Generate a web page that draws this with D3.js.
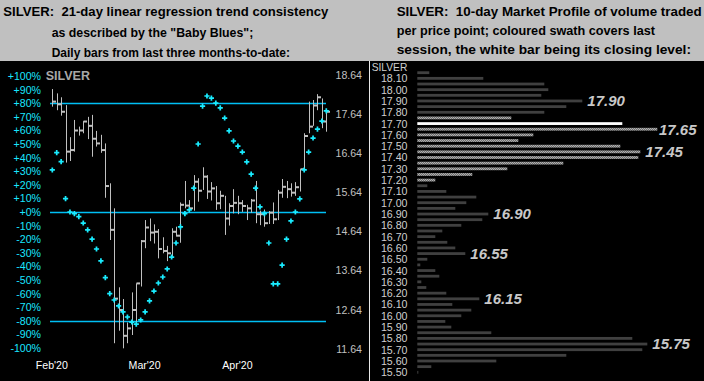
<!DOCTYPE html>
<html><head><meta charset="utf-8">
<script src="https://cdn.jsdelivr.net/npm/d3@7"></script>
<style>
body{margin:0;background:#c0c0c0;}
svg{display:block;font-family:Arial,"Liberation Sans",sans-serif;}
</style>
</head><body>
<svg id="c" width="704" height="381"></svg>
<script>
// ---------- LEFT PANEL DATA ----------
const barHigh  = [18.28,18.17,18.07,17.87,17.05,17.49,17.32,17.46,17.57,17.62,17.21,17.11,16.89,15.87,15.23,13.21,12.91,12.31,13.08,13.31,14.42,14.93,14.97,14.82,14.70,14.49,14.27,14.72,14.76,15.38,15.93,15.44,16.08,16.00,16.28,16.08,15.90,15.80,15.68,15.55,15.36,15.72,15.55,15.44,15.32,15.47,15.93,15.17,15.20,15.16,15.38,15.70,15.98,15.93,15.87,15.90,16.23,17.15,17.96,18.00,18.15,18.04,17.74];
const barLow   = [17.83,17.74,17.60,16.40,16.44,16.68,17.09,17.15,17.00,16.55,16.81,16.65,15.50,14.42,11.78,12.10,11.65,11.78,11.99,12.29,13.23,14.21,14.39,14.33,13.95,14.08,13.88,13.99,14.51,14.35,15.23,15.16,15.17,15.40,15.70,15.47,15.43,15.19,15.21,14.55,14.79,15.10,15.08,15.14,14.93,15.12,14.85,14.80,14.76,14.83,14.83,14.93,15.50,15.49,15.53,15.55,15.66,16.17,17.15,17.34,17.74,17.28,17.19];
const barClose = [17.96,17.89,17.70,16.68,16.72,17.22,17.22,17.45,17.34,17.01,16.89,16.72,15.80,14.68,12.92,12.63,11.97,12.16,12.63,13.31,14.39,14.74,14.61,14.63,14.19,14.14,14.08,14.63,14.53,15.32,15.30,15.23,15.91,15.68,16.04,15.66,15.74,15.36,15.55,14.97,15.29,15.37,15.36,15.29,15.23,15.43,15.08,15.08,14.85,15.12,14.95,15.63,15.78,15.72,15.63,15.77,16.23,17.08,17.32,17.86,18.07,17.45,17.70];
const babyBlues = [30.9,43.6,37.0,9.8,0,-1.2,-3.4,-8.1,-13.2,-19.9,-27.2,-36.0,-48.3,-60.0,-64.7,-69.1,-73.5,-77.2,-80.9,-82.4,-79.4,-73.5,-65.4,-58.1,-52.2,-47.8,-41.9,-33.1,-22.8,-11.0,-1.2,1.5,17.6,50.0,77.9,85.3,83.8,80.1,76.5,69.1,59.6,52.2,48.5,44.1,36.8,27.9,17.6,3.7,-1.2,-22.8,-52.9,-52.9,-39.0,-19.9,-6.6,0,9.6,30.9,44.1,54.4,61.0,66.9,74.3];
const pctTicks = [100,90,80,70,60,50,40,30,20,10,0,-10,-20,-30,-40,-50,-60,-70,-80,-90,-100];
const pctLines = [80,0,-80];
const priceTicks = [18.64,17.64,16.64,15.64,14.64,13.64,12.64,11.64];
const monthLabels = ["Feb'20","Mar'20","Apr'20"];
const monthBarIndex = [0,21,42];

// ---------- RIGHT PANEL DATA ----------
const mpLevels = [18.15,18.10,18.05,18.00,17.95,17.90,17.85,17.80,17.75,17.70,17.65,17.60,17.55,17.50,17.45,17.40,17.35,17.30,17.25,17.20,17.15,17.10,17.05,17.00,16.95,16.90,16.85,16.80,16.75,16.70,16.65,16.60,16.55,16.50,16.45,16.40,16.35,16.30,16.25,16.20,16.15,16.10,16.05,16.00,15.95,15.90,15.85,15.80,15.75,15.70,15.65,15.60,15.55,15.50];
const mpVolume = [12,66,127,131,124,165,149,127,94,205,240,116,101,203,223,221,146,90,55,18,10,29,59,49,38,71,65,44,25,18,30,38,48,10,3,18,22,4,9,29,62,35,54,44,28,34,74,215,230,225,149,79,14,1];
const mpTicks = [18.10,18.00,17.90,17.80,17.70,17.60,17.50,17.40,17.30,17.20,17.10,17.00,16.90,16.80,16.70,16.60,16.50,16.40,16.30,16.20,16.10,16.00,15.90,15.80,15.70,15.60,15.50];
const sessionLow = 17.20, sessionHigh = 17.75, sessionClose = 17.70;
const peakLabels = ["17.90","17.65","17.45","16.90","16.55","16.15","15.75"];

const leftTitle = ["SILVER:  21-day linear regression trend consistency","as described by the \"Baby Blues\";","Daily bars from last three months-to-date:"];
const rightTitle = ["SILVER:  10-day Market Profile of volume traded","per price point; coloured swath covers last","session, the white bar being its closing level:"];

// ---------- DRAW ----------
const svg = d3.select("#c");
const CYAN_LINE = "#00bff5", CYAN_DOT = "#19ecff", CYAN_TXT = "#19e6ff", GREY = "#c0c0c0";

const defs = svg.append("defs");
const pat = defs.append("pattern").attr("id","swath").attr("width",2).attr("height",2).attr("patternUnits","userSpaceOnUse");
pat.append("rect").attr("width",2).attr("height",2).attr("fill","#6e6e6e");
pat.append("rect").attr("width",1).attr("height",1).attr("fill","#b0b0b0");
pat.append("rect").attr("x",1).attr("y",1).attr("width",1).attr("height",1).attr("fill","#b0b0b0");

svg.append("rect").attr("x",0).attr("y",61).attr("width",704).attr("height",320).attr("fill","#000");
svg.append("line").attr("x1",369.5).attr("x2",369.5).attr("y1",61).attr("y2",381).attr("stroke","#e8e8e8").attr("stroke-width",1);

// Titles
function title(lines, xs, ys, widths){
  lines.forEach((t,i)=>{
    svg.append("text").attr("x",xs[i]).attr("y",ys[i]).text(t)
      .style("white-space","pre").attr("font-weight","bold").attr("font-size",13.5)
      .attr("fill","#000").attr("textLength",widths[i]).attr("lengthAdjust","spacingAndGlyphs");
  });
}
title(leftTitle,[3.3,51.7,51.7],[15.5,36.8,57],[325,201.6,238.3]);
title(rightTitle,[396.7,396.7,396.7],[15.5,34.8,53.8],[305,258.3,294.3]);

// Left scales
const xL = d3.scaleLinear().domain([0, barHigh.length-1]).range([52.3, 326.3]);
const yPrice = d3.scaleLinear().domain([11.64,18.64]).range([348.7,75]);
const yPct = d3.scaleLinear().domain([-100,100]).range([348,76]);

// reference lines
svg.append("g").selectAll("line").data(pctLines).join("line")
  .attr("x1",50).attr("x2",326).attr("y1",d=>Math.round(yPct(d))+0.5).attr("y2",d=>Math.round(yPct(d))+0.5)
  .attr("stroke",CYAN_LINE).attr("stroke-width",1.3);

// SILVER label
svg.append("text").attr("x",45.7).attr("y",79.5).text("SILVER").attr("font-weight","bold")
  .attr("font-size",12.5).attr("fill","#a8a8a8");

// OHLC bars
const gb = svg.append("g");
barHigh.forEach((h,i)=>{
  const x = Math.round(xL(i))+0.5;
  gb.append("line").attr("x1",x).attr("x2",x).attr("y1",yPrice(h)).attr("y2",yPrice(barLow[i]))
    .attr("stroke",GREY).attr("stroke-width",1);
  gb.append("rect").attr("x",x).attr("y",yPrice(barClose[i])-1).attr("width",3.5).attr("height",2).attr("fill",GREY);
});

// Baby blues dots
svg.append("g").selectAll("path").data(babyBlues).join("path")
  .attr("d", d3.symbol().type(d3.symbolCross).size(15))
  .attr("transform",(d,i)=>`translate(${xL(i)},${yPct(d)})`)
  .attr("fill",CYAN_DOT);

// Percent axis
const axP = svg.append("g").attr("transform","translate(41,0)")
  .call(d3.axisLeft(yPct).tickValues(pctTicks).tickSize(0).tickPadding(0).tickFormat(d=>(d>=0?"+":"")+d+"%"));
axP.select(".domain").remove();
axP.selectAll("text").attr("fill",CYAN_TXT).attr("font-size",10.6).attr("font-family","Arial,'Liberation Sans',sans-serif");

// Price axis
const axR = svg.append("g").attr("transform","translate(362,0)")
  .call(d3.axisLeft(yPrice).tickValues(priceTicks).tickSize(0).tickPadding(0).tickFormat(d3.format(".2f")));
axR.select(".domain").remove();
axR.selectAll("text").attr("fill",GREY).attr("font-size",10.6).attr("font-family","Arial,'Liberation Sans',sans-serif");

// Month axis
const axX = svg.append("g").attr("transform","translate(-1,361)")
  .call(d3.axisBottom(xL).tickValues(monthBarIndex).tickSize(0).tickPadding(0).tickFormat((d,i)=>monthLabels[i]));
axX.select(".domain").remove();
axX.selectAll("text").attr("fill","#fff").attr("font-size",10.6).attr("font-family","Arial,'Liberation Sans',sans-serif");

// ---------- RIGHT PANEL ----------
const yMP = d3.scaleLinear().domain([15.50,18.15]).range([372.3,72.7]);
const xMP = d3.scaleLinear().domain([0,240]).range([417.3,657.3]);

svg.append("text").attr("x",371.7).attr("y",71.3).text("SILVER").attr("font-size",11).attr("fill","#d0d0d0")
  .attr("textLength",35.6).attr("lengthAdjust","spacingAndGlyphs");

const axM = svg.append("g").attr("transform","translate(407.5,0)")
  .call(d3.axisLeft(yMP).tickValues(mpTicks).tickSize(0).tickPadding(0).tickFormat(d3.format(".2f")));
axM.select(".domain").remove();
axM.selectAll("text").attr("fill","#d0d0d0").attr("font-size",10.8).attr("font-family","Arial,'Liberation Sans',sans-serif")
  .attr("textLength",26.6).attr("lengthAdjust","spacingAndGlyphs");

const eps = 1e-6;
svg.append("g").selectAll("rect").data(mpLevels).join("rect")
  .attr("x",xMP(0)).attr("y",d=>yMP(d)-1.4)
  .attr("width",(d,i)=>Math.max(1,xMP(mpVolume[i])-xMP(0))).attr("height",2.8)
  .attr("fill",d=> Math.abs(d-sessionClose)<eps ? "#ffffff" : (d>=sessionLow-eps && d<=sessionHigh+eps ? "url(#swath)" : "#404040"));

svg.append("g").selectAll("text").data(peakLabels).join("text")
  .attr("x",d=>{const i=mpLevels.findIndex(l=>Math.abs(l-(+d))<eps); return Math.min(xMP(mpVolume[i])+5,659);})
  .attr("y",d=>yMP(+d)+5.3)
  .text(d=>d).attr("font-weight","bold").attr("font-style","italic").attr("font-size",15)
  .attr("fill","#c8c8c8");
</script>
</body></html>
